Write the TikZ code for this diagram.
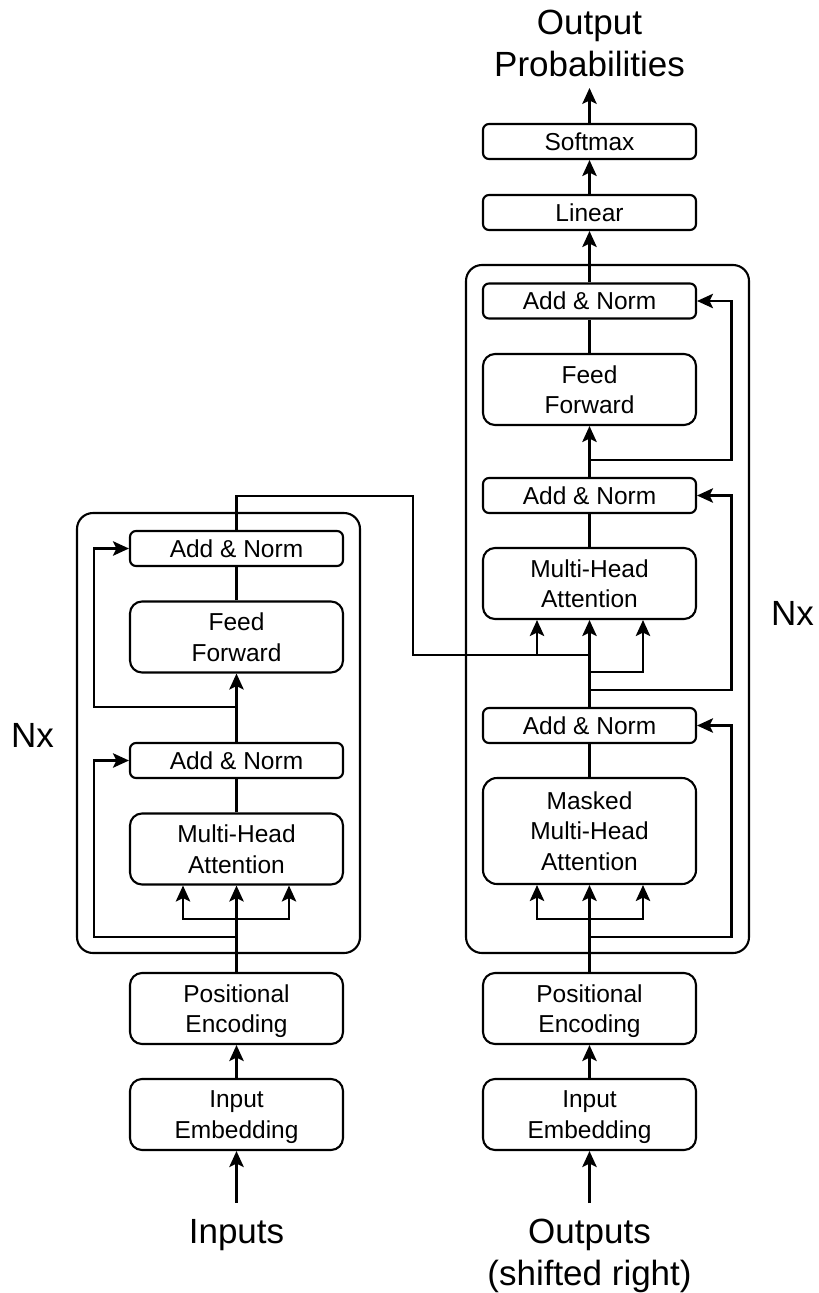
\documentclass[tikz,border=0pt]{standalone}
\usepackage{fontspec}
\setmainfont{Liberation Sans}
\usetikzlibrary{arrows.meta}
\begin{document}
\begin{tikzpicture}[x=1pt,y=-1pt,line width=2.1pt,
  arr/.style={-{Stealth[length=16pt,width=14.5pt,inset=3.5pt]}},
  blk/.style={draw,align=center,inner sep=0pt,text depth=0pt,minimum width=213pt,
    font=\fontsize{24.5}{30.5}\selectfont},
  slim/.style={blk,minimum height=35pt,rounded corners=6pt},
  tall/.style={blk,minimum height=71pt,rounded corners=12pt},
  frame/.style={draw,rounded corners=16pt,inner sep=0pt},
  big/.style={align=center,inner xsep=0pt,inner ysep=0pt,font=\fontsize{35}{42}\selectfont}]
\useasboundingbox (0,0) rectangle (819,1293);

% stack frames
\node[frame,minimum width=283pt,minimum height=440pt] (enc) at (218.5,733) {};
\node[frame,minimum width=283pt,minimum height=688pt] (dec) at (607.5,609) {};

% encoder blocks
\node[slim] (ea2) at (236.5,548.5) {Add \& Norm};
\node[tall] (eff) at (236.5,637) {Feed\\Forward};
\node[slim] (ea1) at (236.5,760.5) {Add \& Norm};
\node[tall] (emha) at (236.5,849) {Multi-Head\\Attention};
\node[tall] (epos) at (236.5,1008.5) {Positional\\Encoding};
\node[tall] (eemb) at (236.5,1114.5) {Input\\Embedding};

% decoder blocks
\node[slim] (soft) at (589.5,141.5) {Softmax};
\node[slim] (lin) at (589.5,212.5) {Linear};
\node[slim] (da3) at (589.5,301) {Add \& Norm};
\node[tall] (dff) at (589.5,389.5) {Feed\\Forward};
\node[slim] (da2) at (589.5,495.5) {Add \& Norm};
\node[tall] (dmha) at (589.5,583.5) {Multi-Head\\Attention};
\node[slim] (da1) at (589.5,725.5) {Add \& Norm};
\node[blk,minimum height=106pt,rounded corners=14pt] (dmmha) at (589.5,831) {Masked\\Multi-Head\\Attention};
\node[tall] (dpos) at (589.5,1008.5) {Positional\\Encoding};
\node[tall] (demb) at (589.5,1114.5) {Input\\Embedding};

% outer labels
\node[big,anchor=base,inner ysep=15pt] (inp) at (236.5,1243) {Inputs};
\node[big,anchor=north,inner ysep=15pt] (outp) at (589.5,1203) {Outputs\\(shifted right)};
\node[big,anchor=south,inner ysep=10pt] (prob) at (589.5,88) {Output\\Probabilities};
\node[big,anchor=base] (nxl) at (32.5,747) {Nx};
\node[big,anchor=base] (nxr) at (792.5,625) {Nx};

% junction points
\coordinate (elx) at (94,0);
\coordinate (ej1) at (236.5,937);
\coordinate (ebar) at (236.5,919);
\coordinate (ebl) at (183,919);
\coordinate (ebr) at (289,919);
\coordinate (ej2) at (236.5,707);
\coordinate (etop) at (236.5,496);
\coordinate (ey) at (413,655);
\coordinate (drx) at (731.5,0);
\coordinate (dj1) at (589.5,937);
\coordinate (dbar) at (589.5,919);
\coordinate (dbl) at (537,919);
\coordinate (dbr) at (643,919);
\coordinate (dj2) at (589.5,690);
\coordinate (dj3) at (589.5,672);
\coordinate (dq) at (643,672);
\coordinate (djx) at (589.5,655);
\coordinate (dk) at (537,655);
\coordinate (dj4) at (589.5,460);

% encoder connections
\draw[arr] (inp.north) -- (eemb.south);
\draw[arr] (eemb) -- (epos);
\draw (epos.north) -- (ebar);
\draw[arr] (ebar) -- (emha.south);
\draw[arr] (ebar) -| (ebl |- emha.south);
\draw[arr] (ebar) -| (ebr |- emha.south);
\draw[arr] (ej1) -- (ej1 -| elx) |- (ea1.west);
\draw (emha.north) -- (ea1.south);
\draw[arr] (ea1.north) -- (eff.south);
\draw[arr] (ej2) -- (ej2 -| elx) |- (ea2.west);
\draw (eff.north) -- (ea2.south);
\draw (ea2.north) -- (etop) -| (ey) -- (djx);

% decoder connections
\draw[arr] (outp.north) -- (demb.south);
\draw[arr] (demb) -- (dpos);
\draw (dpos.north) -- (dbar);
\draw[arr] (dbar) -- (dmmha.south);
\draw[arr] (dbar) -| (dbl |- dmmha.south);
\draw[arr] (dbar) -| (dbr |- dmmha.south);
\draw[arr] (dj1) -- (dj1 -| drx) |- (da1.east);
\draw (dmmha.north) -- (da1.south);
\draw (da1.north) -- (djx);
\draw[arr] (dj2) -- (dj2 -| drx) |- (da2.east);
\draw[arr] (dj3) -| (dq |- dmha.south);
\draw[arr] (djx) -- (dmha.south);
\draw[arr] (dk) -- (dk |- dmha.south);
\draw (dmha.north) -- (da2.south);
\draw[arr] (da2.north) -- (dff.south);
\draw[arr] (dj4) -- (dj4 -| drx) |- (da3.east);
\draw (dff.north) -- (da3.south);
\draw[arr] (da3.north) -- (lin.south);
\draw[arr] (lin.north) -- (soft.south);
\draw[arr] (soft.north) -- (prob.south);
\end{tikzpicture}
\end{document}
